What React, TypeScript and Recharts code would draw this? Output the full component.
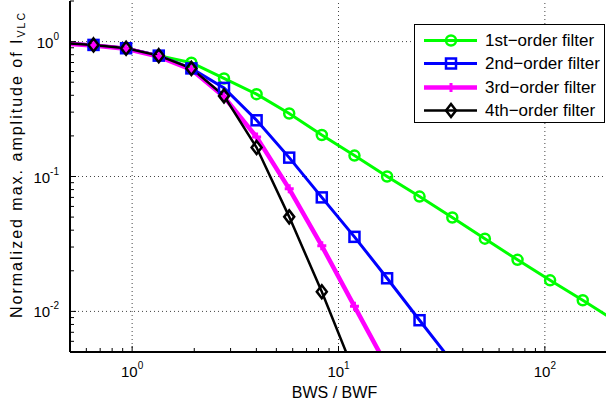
import { LineChart, Line, XAxis, YAxis, ReferenceLine, Legend } from "recharts";

// BWS / BWF ratio for every simulated point (first one lies left of the axis)
const bwRatio = [0.452, 0.65, 0.935, 1.346, 1.937, 2.787, 4.01, 5.77, 8.3, 11.95, 17.2, 24.7, 35.6, 51.2, 73.7, 106, 152.6, 219.6];

const firstOrder = [0.975, 0.945, 0.893, 0.787, 0.697, 0.533, 0.408, 0.293, 0.203, 0.143, 0.1, 0.071, 0.0497, 0.0346, 0.0241, 0.017, 0.0121, 0.0085];
const secondOrder = [0.975, 0.945, 0.893, 0.787, 0.633, 0.454, 0.261, 0.138, 0.07, 0.0357, 0.0176, 0.0086, 0.0042];
const thirdOrder = [0.97, 0.935, 0.885, 0.775, 0.62, 0.39, 0.196, 0.081, 0.0306, 0.0109, 0.0039];
const fourthOrder = [0.975, 0.945, 0.893, 0.787, 0.633, 0.396, 0.164, 0.0502, 0.014, 0.0035];

const xTicks = [0.5, 0.6, 0.7, 0.8, 0.9, 1, 2, 3, 4, 5, 6, 7, 8, 9, 10, 20, 30, 40, 50, 60, 70, 80, 90, 100, 200];
const yTicks = [0.005, 0.006, 0.007, 0.008, 0.009, 0.01, 0.02, 0.03, 0.04, 0.05, 0.06, 0.07, 0.08, 0.09, 0.1, 0.2, 0.3, 0.4, 0.5, 0.6, 0.7, 0.8, 0.9, 1, 2];
const xMajor = [1, 10, 100];
const yMajor = [0.01, 0.1, 1];

const FONT = "'Liberation Sans', Arial, Helvetica, sans-serif";

const series = [
  { name: "1st−order filter", values: firstOrder, color: "#00ff00", width: 3, marker: "circle" },
  { name: "2nd−order filter", values: secondOrder, color: "#0000ff", width: 3, marker: "square" },
  { name: "3rd−order filter", values: thirdOrder, color: "#ff00ff", width: 4.5, marker: "plus" },
  { name: "4th−order filter", values: fourthOrder, color: "#000000", width: 2.5, marker: "diamond" },
];

const toData = (values: number[]) => values.map((y, i) => ({ x: bwRatio[i], y }));

const isMajor = (list: number[], v: number) => list.some((m) => Math.abs(m - v) < 1e-9);
const expOf = (v: number) => String(Math.round(Math.log10(v)));

function Marker({ type, cx, cy, color }: any) {
  if (cx == null || cy == null) return null;
  if (type === "circle") return <circle cx={cx} cy={cy} r={5} fill="none" stroke={color} strokeWidth={2.5} />;
  if (type === "square")
    return <rect x={cx - 5} y={cy - 5} width={10} height={10} fill="none" stroke={color} strokeWidth={2.5} />;
  if (type === "plus")
    return <path d={`M${cx - 4.5},${cy}H${cx + 4.5}M${cx},${cy - 4.5}V${cy + 4.5}`} stroke={color} strokeWidth={3} />;
  return (
    <path
      d={`M${cx},${cy - 6.5}L${cx + 5},${cy}L${cx},${cy + 6.5}L${cx - 5},${cy}Z`}
      fill="none"
      stroke={color}
      strokeWidth={2.5}
    />
  );
}

const BottomTick = (props: any) => {
  const { x, y, payload } = props;
  const major = isMajor(xMajor, payload.value);
  return (
    <g>
      <line x1={x} x2={x} y1={y} y2={y - (major ? 6 : 4)} stroke="#000" />
      {major && (
        <text x={x} y={y + 25} textAnchor="middle" fontSize={15} fontFamily={FONT} fill="#000">
          10
          <tspan dy={-8} fontSize={10}>
            {expOf(payload.value)}
          </tspan>
        </text>
      )}
    </g>
  );
};

const TopTick = (props: any) => {
  const { x, y, payload } = props;
  const major = isMajor(xMajor, payload.value);
  return <line x1={x} x2={x} y1={y} y2={y + (major ? 6 : 4)} stroke="#000" />;
};

const LeftTick = (props: any) => {
  const { x, y, payload } = props;
  const major = isMajor(yMajor, payload.value);
  return (
    <g>
      <line x1={x} x2={x + (major ? 6 : 4)} y1={y} y2={y} stroke="#000" />
      {major && (
        <text x={x - 11} y={y + 6} textAnchor="end" fontSize={15} fontFamily={FONT} fill="#000">
          10
          <tspan dy={-8} fontSize={10}>
            {expOf(payload.value)}
          </tspan>
        </text>
      )}
    </g>
  );
};

const RightTick = (props: any) => {
  const { x, y, payload } = props;
  const major = isMajor(yMajor, payload.value);
  return <line x1={x} x2={x - (major ? 6 : 4)} y1={y} y2={y} stroke="#000" />;
};

const XLabel = (props: any) => {
  const vb = props.viewBox;
  return (
    <text x={vb.x + vb.width / 2 - 4} y={vb.y + 46} textAnchor="middle" fontSize={16} fontFamily={FONT} fill="#000">
      BWS / BWF
    </text>
  );
};

const YLabel = (props: any) => {
  const vb = props.viewBox;
  const cx = 22;
  const cy = vb.y + vb.height / 2 - 12;
  return (
    <text
      x={cx}
      y={cy}
      transform={`rotate(-90 ${cx} ${cy})`}
      textAnchor="middle"
      fontSize={16}
      letterSpacing={2}
      fontFamily={FONT}
      fill="#000"
    >
      Normalized max. amplitude of I
      <tspan dy={3} fontSize={10.5}>
        VLC
      </tspan>
    </text>
  );
};

const LegendBox = () => (
  <div
    style={{
      boxSizing: "border-box",
      width: 191,
      height: 99,
      border: "1px solid #000",
      background: "#fff",
      paddingTop: 4,
      fontFamily: FONT,
      color: "#000",
    }}
  >
    {series.map((s) => (
      <div key={s.name} style={{ display: "flex", alignItems: "center", height: 23.3 }}>
        <svg width={66} height={23} style={{ display: "block" }}>
          <line x1={9} x2={62} y1={11.5} y2={11.5} stroke={s.color} strokeWidth={s.width} />
          <Marker type={s.marker} cx={36} cy={11.5} color={s.color} />
        </svg>
        <span style={{ fontSize: 17, lineHeight: "23px", whiteSpace: "nowrap", marginLeft: 4 }}>{s.name}</span>
      </div>
    ))}
  </div>
);

export default function App() {
  return (
    <div style={{ position: "absolute", left: 0, top: 0, width: 606, height: 405, overflow: "hidden", background: "#fff" }}>
      <LineChart width={612} height={405} margin={{ top: 1, right: 5, bottom: 0, left: 0 }}>
        <XAxis
          xAxisId="b"
          type="number"
          dataKey="x"
          scale="log"
          domain={[0.5, 200]}
          allowDataOverflow
          ticks={xTicks}
          interval={0}
          tickSize={0}
          tickMargin={0}
          tickLine={false}
          tick={<BottomTick />}
          height={53}
          axisLine={{ stroke: "#000", strokeWidth: 2 }}
          label={{ content: <XLabel /> }}
        />
        <XAxis
          xAxisId="t"
          orientation="top"
          type="number"
          scale="log"
          domain={[0.5, 200]}
          allowDataOverflow
          ticks={xTicks}
          interval={0}
          tickSize={0}
          tickMargin={0}
          tickLine={false}
          tick={<TopTick />}
          height={0}
          axisLine={{ stroke: "#000", strokeWidth: 1 }}
        />
        <YAxis
          yAxisId="l"
          type="number"
          scale="log"
          domain={[0.005, 2]}
          allowDataOverflow
          ticks={yTicks}
          interval={0}
          tickSize={0}
          tickMargin={0}
          tickLine={false}
          tick={<LeftTick />}
          width={70}
          axisLine={{ stroke: "#000", strokeWidth: 2 }}
          label={{ content: <YLabel /> }}
        />
        <YAxis
          yAxisId="r"
          orientation="right"
          type="number"
          scale="log"
          domain={[0.005, 2]}
          allowDataOverflow
          ticks={yTicks}
          interval={0}
          tickSize={0}
          tickMargin={0}
          tickLine={false}
          tick={<RightTick />}
          width={0}
          axisLine={{ stroke: "#000", strokeWidth: 1 }}
        />
        {xMajor.map((v) => (
          <ReferenceLine key={`gx${v}`} x={v} xAxisId="b" yAxisId="l" stroke="#444" strokeDasharray="1 3" />
        ))}
        {yMajor.map((v) => (
          <ReferenceLine key={`gy${v}`} y={v} xAxisId="b" yAxisId="l" stroke="#444" strokeDasharray="1 3" />
        ))}
        {series.map((s) => (
          <Line
            key={s.name}
            name={s.name}
            xAxisId="b"
            yAxisId="l"
            data={toData(s.values)}
            dataKey="y"
            type="linear"
            stroke={s.color}
            strokeWidth={s.width}
            isAnimationActive={false}
            dot={(p: any) => <Marker key={`${s.marker}${p.index}`} type={s.marker} cx={p.cx} cy={p.cy} color={s.color} />}
            activeDot={false}
          />
        ))}
        <Legend
          layout="vertical"
          align="center"
          verticalAlign="middle"
          wrapperStyle={{ left: 414, top: 24, width: 191, height: 99 }}
          content={() => <LegendBox />}
        />
      </LineChart>
    </div>
  );
}
